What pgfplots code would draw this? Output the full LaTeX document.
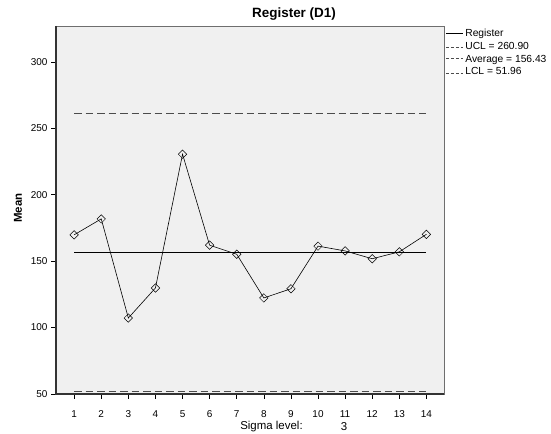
\documentclass[border=0pt]{standalone}
\usepackage{fontspec}
\setmainfont{Liberation Sans}
\usepackage{pgfplots}
\pgfplotsset{compat=1.18}
\definecolor{plotbg}{RGB}{240,240,240}
\definecolor{framegray}{RGB}{110,110,110}
\definecolor{dashgray}{RGB}{75,75,75}

\begin{document}
\begin{tikzpicture}[x=1bp,y=1bp]
\useasboundingbox (0,0) rectangle (551,434);
\begin{axis}[
  at={(56bp,40bp)}, anchor=south west,
  scale only axis,
  width=388bp, height=368bp,
  xmin=0.33, xmax=14.65,
  ymin=50, ymax=327,
  xtick={1,...,14},
  ytick={50,100,...,300},
  tick align=outside,
  major tick length=5bp,
  xtick pos=bottom, ytick pos=left,
  tick style={black, line width=0.6pt},
  tick label style={font=\fontsize{10}{11}\selectfont},
  xticklabel style={yshift=-8bp},
  /pgf/number format/assume math mode=true,
  axis background/.style={fill=plotbg},
  axis line style={framegray, line width=0.6pt},
  clip=false,
  legend style={at={(1.004,0.998)}, anchor=north west, draw=none, fill=none,
    font=\fontsize{10.3}{11}\selectfont, row sep=0.3pt,
    inner sep=0pt, outer sep=0pt},
  legend cell align=left,
]
\addplot[black, line width=0.6pt, mark=square, mark size=3bp,
  mark options={rotate=45, fill=white, line width=0.5pt},
  legend image code/.code={\draw[black, line width=0.8pt] (0bp,0bp) -- (17bp,0bp);}]
  coordinates {(1,169.8)(2,181.8)(3,107.2)(4,129.8)(5,230.5)(6,162.0)(7,155.2)
  (8,122.3)(9,129.2)(10,161.3)(11,157.7)(12,151.8)(13,157.0)(14,170.2)};
\addlegendentry{Register}
\addplot[dashgray, line width=1.3pt, dash pattern=on 7.5bp off 4bp,
  legend image code/.code={\draw[dashgray, line width=0.8pt, dash pattern=on 3bp off 2bp] (0bp,-1bp) -- (17bp,-1bp);}]
  coordinates {(1,260.90)(14,260.90)};
\addlegendentry{UCL = 260.90}
\addplot[black, line width=0.8pt,
  legend image code/.code={\draw[dashgray, line width=0.8pt, dash pattern=on 3bp off 2bp] (0bp,1bp) -- (17bp,1bp);}]
  coordinates {(1,156.43)(14,156.43)};
\addlegendentry{Average = 156.43}
\addplot[dashgray, line width=1.3pt, dash pattern=on 7.5bp off 4bp,
  legend image code/.code={\draw[dashgray, line width=0.8pt, dash pattern=on 3bp off 2bp] (0bp,-1bp) -- (17bp,-1bp);}]
  coordinates {(1,51.96)(14,51.96)};
\addlegendentry{LCL = 51.96}
\end{axis}
\draw[black!80, line width=1.2pt] (56,408) -- (56,40) -- (444,40);
\node[font=\bfseries\fontsize{13.5}{15}\selectfont] at (294,420) {Register (D1)};
\node[font=\bfseries\fontsize{11.5}{13}\selectfont, rotate=90] at (18,226) {Mean};
\node[font=\fontsize{11.5}{13}\selectfont] at (271.5,7) {Sigma level:};
\node[font=\fontsize{11.5}{13}\selectfont] at (344,7) {3};
\end{tikzpicture}
\end{document}
